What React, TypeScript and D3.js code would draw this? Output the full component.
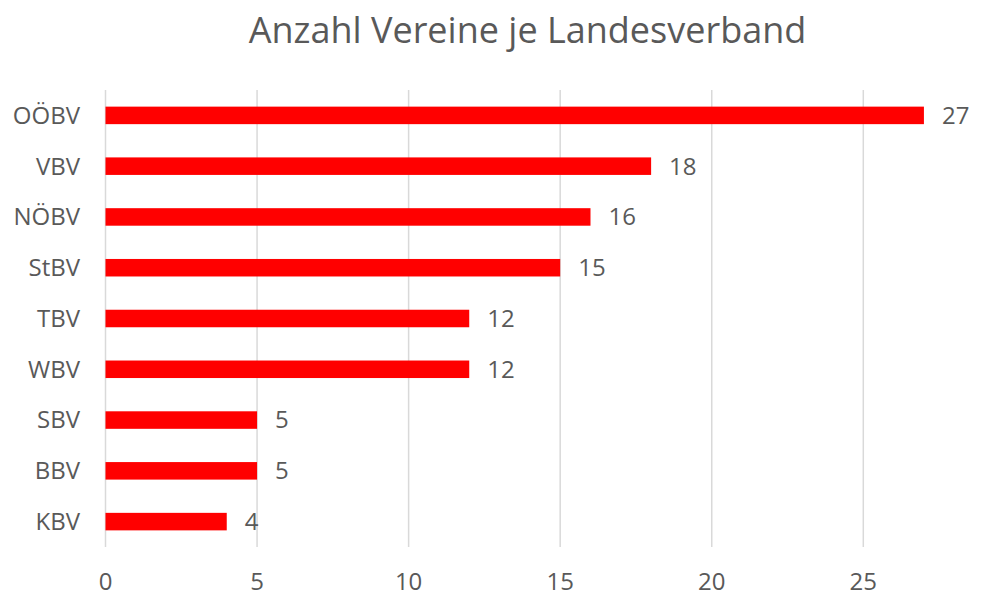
import React from "react";
import * as d3 from "d3";

const categories = ["OÖBV", "VBV", "NÖBV", "StBV", "TBV", "WBV", "SBV", "BBV", "KBV"];
const values = [27, 18, 16, 15, 12, 12, 5, 5, 4];
const ticks = [0, 5, 10, 15, 20, 25];
const title = "Anzahl Vereine je Landesverband";

const W = 1000;
const H = 607;
const FONT = "'Open Sans', sans-serif";
const TXT = "#595959";

export default function App() {
  const x = d3.scaleLinear().domain([0, 25]).range([105.5, 863.3]);
  const y = d3.scaleBand().domain(categories).range([90, 547]).paddingInner(0.655).paddingOuter(0.3275);
  return (
    <svg width={W} height={H} style={{ position: "absolute", left: 0, top: 0, background: "#fff" }}>
      <text x={527.5} y={43} textAnchor="middle" fontFamily={FONT} fontSize={36} fill={TXT}>{title}</text>
      {ticks.map((t) => (
        <g key={t}>
          <line x1={x(t)} x2={x(t)} y1={90} y2={547} stroke="#d9d9d9" strokeWidth={1.5} />
          <text x={x(t)} y={590} textAnchor="middle" fontFamily={FONT} fontSize={24} fill={TXT}>{t}</text>
        </g>
      ))}
      {categories.map((c, i) => {
        const yc = (y(c) as number) + y.bandwidth() / 2;
        return (
          <g key={c}>
            <rect x={x(0)} y={y(c)} width={x(values[i]) - x(0)} height={y.bandwidth()} fill="#ff0000" />
            <text x={80} y={yc} dy="0.35em" textAnchor="end" fontFamily={FONT} fontSize={24} fill={TXT}>{c}</text>
            <text x={x(values[i]) + 18} y={yc} dy="0.35em" textAnchor="start" fontFamily={FONT} fontSize={24} fill={TXT}>{values[i]}</text>
          </g>
        );
      })}
    </svg>
  );
}
